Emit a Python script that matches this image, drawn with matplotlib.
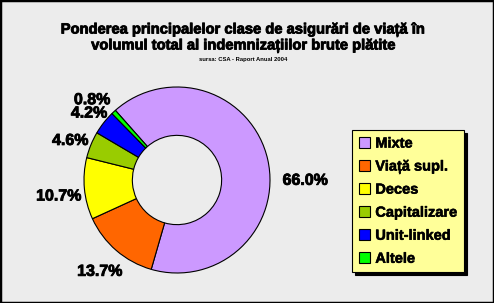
import matplotlib
matplotlib.use("Agg")
import matplotlib.pyplot as plt
import matplotlib.patheffects as pe
import numpy as np
from matplotlib.patches import Rectangle, Patch

categories = ["Mixte", "Viață supl.", "Deces", "Capitalizare", "Unit-linked", "Altele"]
values = [66.0, 13.7, 10.7, 4.6, 4.2, 0.8]
colors = ["#cc99ff", "#ff6600", "#ffff00", "#99cc00", "#0000ff", "#00ff00"]
title = "Ponderea principalelor clase de asigurări de viață în\nvolumul total al indemnizațiilor brute plătite"
source = "sursa: CSA - Raport Anual 2004"

plt.rcParams['font.family'] = ['Liberation Sans', 'DejaVu Sans']

W, H = 494, 303
fig = plt.figure(figsize=(W/100, H/100), dpi=100)
fig.patch.set_facecolor("#ececec")
fig.patches.append(Rectangle((0, 0), 1, 1, transform=fig.transFigure, fill=False,
                             edgecolor="black", linewidth=2.5, zorder=10))

thick = [pe.withStroke(linewidth=0.6, foreground="black")]

cx, cy, R = 177, 180, 93
ax = fig.add_axes([(cx - R)/W, (H - cy - R)/H, 2*R/W, 2*R/H])
ax.set_aspect("equal")
ax.axis("off")
wedges, _ = ax.pie(values, colors=colors, startangle=131.5, counterclock=False, radius=1,
                   wedgeprops=dict(width=0.52, edgecolor="black", linewidth=0.8))
ax.set_xlim(-1, 1)
ax.set_ylim(-1, 1)

# label radial distance / angle tweaks (style only)
dist = [1.38, 1.27, 1.28, 1.23, 1.2, 1.27]
dang = [-12, 0, 1.5, 1, 0, 3]
for w, v, d, da in zip(wedges, values, dist, dang):
    a = np.deg2rad((w.theta1 + w.theta2) / 2 + da)
    ax.text(d*np.cos(a), d*np.sin(a) - 0.02, f"{v:.1f}%", ha="center", va="center",
            fontsize=11.5, fontweight="bold", clip_on=False, path_effects=thick)

fig.text(243/W, 1 - 37.5/H, title, ha="center", va="center", fontsize=10.6,
         fontweight="bold", linespacing=1.18, path_effects=thick)
fig.text(243/W, 1 - 59/H, source, ha="center", va="center", fontsize=4.2, fontweight="bold")

handles = [Patch(facecolor=c, edgecolor="black", linewidth=0.8) for c in colors]
leg = fig.legend(handles, categories, loc="upper left", bbox_to_anchor=(352/W, 1 - 130/H),
                 borderaxespad=0, frameon=True, fancybox=False,
                 shadow={'color': 'black', 'alpha': 1},
                 prop=dict(size=10.5, weight="bold"), handlelength=0.75, handleheight=0.75,
                 handletextpad=0.4, labelspacing=0.62, borderpad=0.45)
leg.get_frame().set_facecolor("#ffff99")
leg.get_frame().set_edgecolor("black")
leg.get_frame().set_linewidth(0.8)
leg.get_frame().set_alpha(1)
for t in leg.get_texts():
    t.set_path_effects([pe.withStroke(linewidth=0.4, foreground="black")])

fig.savefig("out.png", dpi=100, facecolor=fig.get_facecolor())
